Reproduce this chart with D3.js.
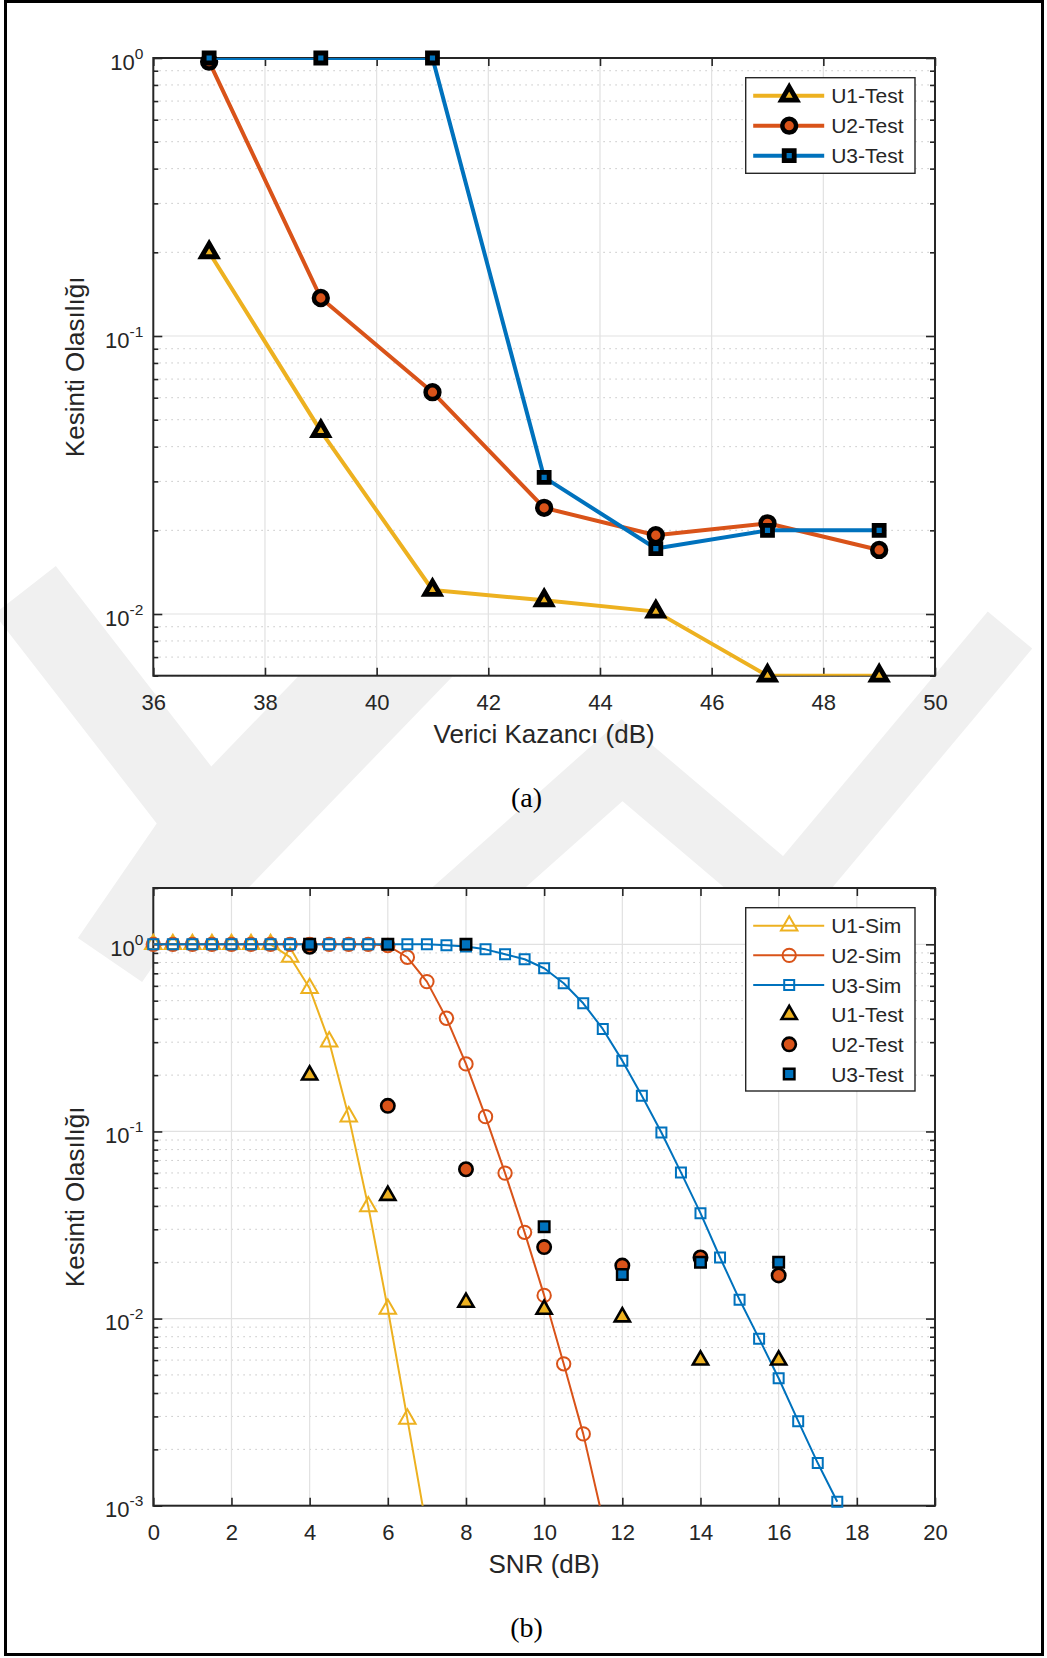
<!DOCTYPE html>
<html>
<head>
<meta charset="utf-8">
<script src="https://cdn.jsdelivr.net/npm/d3@7/dist/d3.min.js"></script>
<style>
  html, body { margin: 0; padding: 0; background: #fff; }
  svg { display: block; }
  text { font-family: "Liberation Sans", Arial, Helvetica, sans-serif; fill: #262626; }
  .caption { font-family: "Liberation Serif", "Times New Roman", serif; fill: #000; }
</style>
</head>
<body>
<svg id="fig" width="1047" height="1658"></svg>
<script>
// ---- data --------------------------------------------------------------
const gainTest = [37, 39, 41, 43, 45, 47, 49];          // (a) transmitter gain, dB
const snrTest  = [4, 6, 8, 10, 12, 14, 16];             // (b) SNR of the test points, dB
const u1Test = [0.2, 0.0455, 0.0122, 0.0112, 0.0102, 0.006, 0.006];
const u2Test = [0.97, 0.137, 0.0628, 0.0241, 0.0192, 0.0212, 0.0170];
const u3Test = [1, 1, 1, 0.031, 0.0172, 0.020, 0.020];

const snrSim = [0, 0.5, 1, 1.5, 2, 2.5, 3, 3.5, 4, 4.5, 5, 5.5, 6, 6.5, 7, 7.5, 8, 8.5,
                9, 9.5, 10, 10.5, 11, 11.5, 12, 12.5, 13, 13.5, 14, 14.5, 15, 15.5, 16, 16.5, 17, 17.5];
const u1Sim = [1, 1, 1, 1, 1, 1, 1, 0.855, 0.582, 0.302, 0.120, 0.0397, 0.01125, 0.00291, 0.00074];
const u2Sim = [1, 1, 1, 1, 1, 1, 1, 1, 1, 1, 1, 1, 0.985, 0.853, 0.632, 0.403, 0.2296, 0.120,
               0.0599, 0.0289, 0.0133, 0.00573, 0.00242, 0.00085];
const u3Sim = [1, 1, 1, 1, 1, 1, 1, 1, 1, 1, 1, 1, 1, 1, 1, 0.99, 0.975, 0.94, 0.885, 0.832,
               0.745, 0.619, 0.484, 0.353, 0.239, 0.155, 0.0987, 0.0604, 0.0366, 0.0212,
               0.0126, 0.00781, 0.0048, 0.00283, 0.00169, 0.00105];

const xTicksA = [36, 38, 40, 42, 44, 46, 48, 50];
const xTicksB = [0, 2, 4, 6, 8, 10, 12, 14, 16, 18, 20];
const namesTest = ["U1-Test", "U2-Test", "U3-Test"];
const namesSim  = ["U1-Sim", "U2-Sim", "U3-Sim"];

const COL = ["#EDB120", "#D95319", "#0072BD"];

// ---- helpers -----------------------------------------------------------
function markerPath(shape, size) {
  if (shape === "tri") {
    const h = size * Math.sqrt(3) / 2;
    return `M0,${-2 * h / 3}L${size / 2},${h / 3}L${-size / 2},${h / 3}Z`;
  }
  if (shape === "square") {
    const s = size / 2;
    return `M${-s},${-s}H${s}V${s}H${-s}Z`;
  }
  const r = size / 2;
  return `M${r},0A${r},${r} 0 1,1 ${-r},0A${r},${r} 0 1,1 ${r},0Z`;
}
function isDecade(v) {
  const l = Math.log10(v);
  return Math.abs(l - Math.round(l)) < 1e-9;
}

const svg = d3.select("#fig");

// ---- background watermark ---------------------------------------------
const wm = svg.append("g").attr("fill", "none").attr("stroke", "#f0f0f0")
  .attr("stroke-linejoin", "miter").attr("stroke-linecap", "butt");
const wmBands = [
  { w: 78, pts: [[25, 590], [205, 822], [110, 960]] },
  { w: 68, pts: [[390, 630], [205, 822]] },
  { w: 60, pts: [[190, 905], [480, 605]] },
  { w: 62, pts: [[420, 940], [622, 760], [840, 945]] },
  { w: 58, pts: [[780, 905], [1010, 630]] }
];
wmBands.forEach(b => wm.append("path").attr("stroke-width", b.w).attr("d", d3.line()(b.pts)));

// outer frame
svg.append("rect").attr("x", 5.5).attr("y", 1.5).attr("width", 1037).attr("height", 1653)
  .attr("fill", "none").attr("stroke", "#000").attr("stroke-width", 3);

// ---- generic panel ------------------------------------------------------
function panel(cfg) {
  const L = 153.3, R = 935, T = cfg.top, B = cfg.bottom;
  const x = d3.scaleLinear().domain(cfg.xDomain).range([L, R]);
  const y = d3.scaleLog().domain(cfg.yDomain).range([B, T]);
  const g = svg.append("g");
  const clipId = "clip" + cfg.id;
  svg.append("clipPath").attr("id", clipId).append("rect")
    .attr("x", L).attr("y", T).attr("width", R - L).attr("height", B - T);

  g.append("rect").attr("x", L).attr("y", T).attr("width", R - L).attr("height", B - T).attr("fill", "#fff");

  const yTicks = y.ticks().filter(v => v >= cfg.yDomain[0] * 0.999 && v <= cfg.yDomain[1] * 1.001);
  const yMajor = yTicks.filter(isDecade);
  const yMinor = yTicks.filter(v => !isDecade(v));

  // grid
  const grid = g.append("g");
  grid.selectAll(".ymin").data(yMinor).join("line")
    .attr("x1", L).attr("x2", R).attr("y1", d => y(d)).attr("y2", d => y(d))
    .attr("stroke", "#c8c8c8").attr("stroke-width", 1).attr("stroke-dasharray", "1.6,4.4");
  grid.selectAll(".xg").data(cfg.xTicks.slice(1, -1)).join("line")
    .attr("x1", d => x(d)).attr("x2", d => x(d)).attr("y1", T).attr("y2", B)
    .attr("stroke", "#e1e1e1").attr("stroke-width", 1.2);
  grid.selectAll(".ymaj").data(yMajor).join("line")
    .attr("x1", L).attr("x2", R).attr("y1", d => y(d)).attr("y2", d => y(d))
    .attr("stroke", "#e1e1e1").attr("stroke-width", 1.2);

  // axes with inward ticks
  const ax = g.append("g").attr("color", "#262626");
  const styleAxis = sel => { sel.select(".domain").remove(); sel.selectAll("line").attr("stroke-width", 1.6); };
  ax.append("g").attr("transform", `translate(0,${B})`)
    .call(d3.axisBottom(x).tickValues(cfg.xTicks).tickSize(-8).tickPadding(18.7).tickFormat(d3.format("d")))
    .call(styleAxis)
    .call(s => s.selectAll("text").attr("font-size", 22).attr("font-family", "Liberation Sans, Arial, sans-serif").attr("fill", "#262626"));
  ax.append("g").attr("transform", `translate(0,${T})`)
    .call(d3.axisTop(x).tickValues(cfg.xTicks).tickSize(-8).tickFormat(""))
    .call(styleAxis);
  ax.append("g").attr("transform", `translate(${L},0)`)
    .call(d3.axisLeft(y).tickValues(yMajor).tickSize(-9).tickFormat("")).call(styleAxis);
  ax.append("g").attr("transform", `translate(${L},0)`)
    .call(d3.axisLeft(y).tickValues(yMinor).tickSize(-5).tickFormat("")).call(styleAxis);
  ax.append("g").attr("transform", `translate(${R},0)`)
    .call(d3.axisRight(y).tickValues(yMajor).tickSize(-9).tickFormat("")).call(styleAxis);
  ax.append("g").attr("transform", `translate(${R},0)`)
    .call(d3.axisRight(y).tickValues(yMinor).tickSize(-5).tickFormat("")).call(styleAxis);

  // y tick labels as 10^n
  const yl = g.append("g");
  yMajor.forEach(v => {
    const t = yl.append("text").attr("x", L - 10).attr("y", y(v) + 11.5)
      .attr("text-anchor", "end").attr("font-size", 22);
    t.append("tspan").text("10");
    t.append("tspan").attr("dy", -11).attr("font-size", 15.5).text(String(Math.round(Math.log10(v))));
  });

  // plot box
  g.append("rect").attr("x", L).attr("y", T).attr("width", R - L).attr("height", B - T)
    .attr("fill", "none").attr("stroke", "#262626").attr("stroke-width", 2);

  // labels
  g.append("text").attr("x", (L + R) / 2).attr("y", B + 67.6).attr("text-anchor", "middle")
    .attr("font-size", 26).text(cfg.xLabel);
  g.append("text").attr("transform", `translate(84,${(T + B) / 2}) rotate(-90)`)
    .attr("text-anchor", "middle").attr("font-size", 26).text("Kesinti Olasılığı");
  svg.append("text").attr("class", "caption").attr("x", 526.5).attr("y", B + 131)
    .attr("text-anchor", "middle").attr("font-size", 28).text(cfg.caption);

  return { g, x, y, clipId, L, R, T, B };
}

function drawSeries(p, xs, ys, opt) {
  const pts = ys.map((v, i) => [xs[i], v]);
  const layer = p.g.append("g");
  if (opt.lineWidth) {
    layer.append("path").attr("clip-path", `url(#${p.clipId})`)
      .attr("d", d3.line().x(d => p.x(d[0])).y(d => p.y(d[1]))(pts))
      .attr("fill", "none").attr("stroke", opt.color).attr("stroke-width", opt.lineWidth)
      .attr("stroke-linejoin", "round");
  }
  const dom = p.y.domain();
  layer.selectAll("path.m").data(pts.filter(d => d[1] >= dom[0] * 0.999 && d[1] <= dom[1] * 1.001))
    .join("path").attr("class", "m")
    .attr("transform", d => `translate(${p.x(d[0])},${p.y(d[1])})`)
    .attr("d", markerPath(opt.shape, opt.size))
    .attr("fill", opt.fill).attr("stroke", opt.stroke).attr("stroke-width", opt.strokeWidth)
    .attr("stroke-linejoin", "miter");
}

function legend(p, box, rows) {
  const lg = p.g.append("g");
  lg.append("rect").attr("x", box.x).attr("y", box.y).attr("width", box.w).attr("height", box.h)
    .attr("fill", "#fff").attr("stroke", "#262626").attr("stroke-width", 1.4);
  rows.forEach((r, i) => {
    const cy = box.firstRow + i * box.step;
    if (r.lineWidth) {
      lg.append("line").attr("x1", box.x + 7.5).attr("x2", box.x + 78.5).attr("y1", cy).attr("y2", cy)
        .attr("stroke", r.color).attr("stroke-width", r.lineWidth);
    }
    lg.append("path").attr("transform", `translate(${box.x + 43.5},${cy})`)
      .attr("d", markerPath(r.shape, r.size)).attr("fill", r.fill)
      .attr("stroke", r.stroke).attr("stroke-width", r.strokeWidth);
    lg.append("text").attr("x", box.x + 85.5).attr("y", cy + 7.6).attr("font-size", 21).text(r.name);
  });
}

// marker settings
const testThick = [
  { shape: "tri", size: 15.3, strokeWidth: 4.8 },
  { shape: "circle", size: 13.8, strokeWidth: 4.5 },
  { shape: "square", size: 10, strokeWidth: 4.8 }
];
const testThin = [
  { shape: "tri", size: 15.2, strokeWidth: 2.6 },
  { shape: "circle", size: 13.4, strokeWidth: 2.6 },
  { shape: "square", size: 10.6, strokeWidth: 2.4 }
];
const simOpen = [
  { shape: "tri", size: 16.5, strokeWidth: 2 },
  { shape: "circle", size: 13.4, strokeWidth: 2 },
  { shape: "square", size: 10, strokeWidth: 2 }
];

// ---- panel (a) -----------------------------------------------------------
const pa = panel({
  id: "a", top: 58, bottom: 675.7, xDomain: [36, 50], yDomain: [0.006, 1],
  xTicks: xTicksA, xLabel: "Verici Kazancı (dB)", caption: "(a)"
});
const testA = [u1Test, u2Test, u3Test];
testA.forEach((ys, i) => drawSeries(pa, gainTest, ys, Object.assign({
  color: COL[i], lineWidth: 4, fill: COL[i], stroke: "#000"
}, testThick[i])));
legend(pa, { x: 745.7, y: 77.7, w: 169.3, h: 95.6, firstRow: 95.7, step: 30 },
  namesTest.map((n, i) => Object.assign({ name: n, color: COL[i], lineWidth: 4, fill: COL[i], stroke: "#000" }, testThick[i])));

// ---- panel (b) -----------------------------------------------------------
const pb = panel({
  id: "b", top: 888, bottom: 1505.7, xDomain: [0, 20], yDomain: [0.001, 2],
  xTicks: xTicksB, xLabel: "SNR (dB)", caption: "(b)"
});
const simB = [u1Sim, u2Sim, u3Sim];
simB.forEach((ys, i) => drawSeries(pb, snrSim.slice(0, ys.length), ys, Object.assign({
  color: COL[i], lineWidth: 2, fill: "none", stroke: COL[i]
}, simOpen[i])));
testA.forEach((ys, i) => drawSeries(pb, snrTest, ys, Object.assign({
  color: COL[i], lineWidth: 0, fill: COL[i], stroke: "#000"
}, testThin[i])));
legend(pb, { x: 745.7, y: 907.7, w: 169.3, h: 183.3, firstRow: 925.7, step: 29.66 },
  namesSim.map((n, i) => Object.assign({ name: n, color: COL[i], lineWidth: 2, fill: "none", stroke: COL[i] }, simOpen[i]))
  .concat(namesTest.map((n, i) => Object.assign({ name: n, color: COL[i], lineWidth: 0, fill: COL[i], stroke: "#000" }, testThin[i]))));
</script>
</body>
</html>
